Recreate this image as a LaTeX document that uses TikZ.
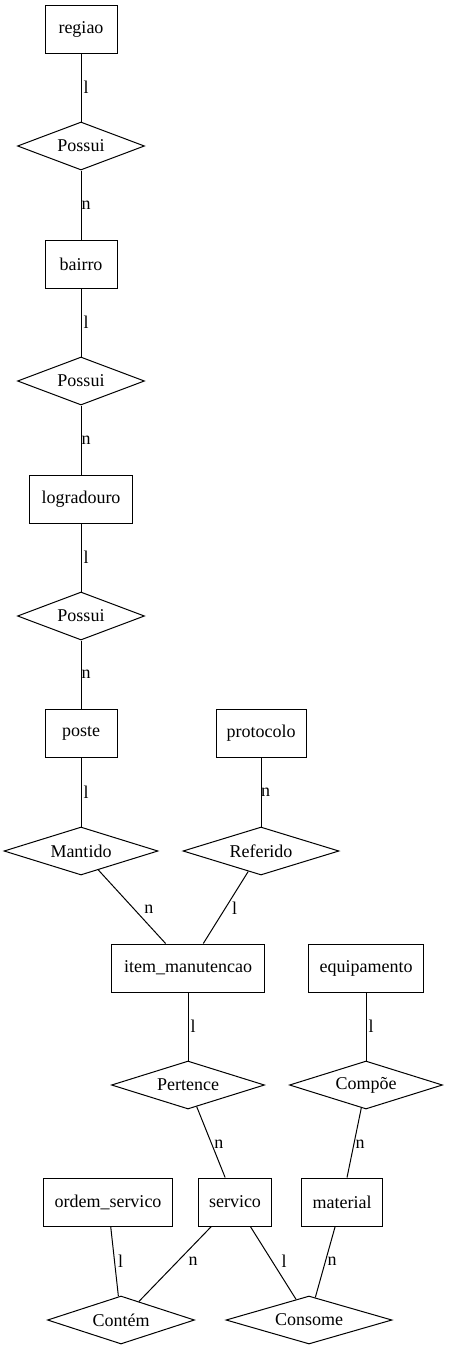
\documentclass[tikz,border=0pt]{standalone}
\usepackage{fontspec}
\setmainfont{Liberation Serif}
\usetikzlibrary{shapes.geometric}
\begin{document}
\begin{tikzpicture}[x=1pt,y=-1pt,
  every node/.style={font=\fontsize{18}{21}\selectfont},
  ent/.style={draw, rectangle, minimum height=48pt, inner sep=0pt, line width=1pt},
  rel/.style={draw, diamond, shape aspect=3.2, minimum height=48pt, inner sep=0pt, line width=1pt},
  conn/.style={line width=1pt},
  lbl/.style={inner sep=0pt, midway}
]
\useasboundingbox (0,0) rectangle (448,1349);
\node[ent, minimum width=72pt] (regiao) at (81,29) {regiao};
\node[rel, minimum width=127pt] (p1) at (81,146) {Possui};
\node[ent, minimum width=72pt] (bairro) at (81,264) {bairro};
\node[rel, minimum width=127pt] (p2) at (81,381) {Possui};
\node[ent, minimum width=103pt] (logr) at (81,499) {logradouro};
\node[rel, minimum width=127pt] (p3) at (81,616) {Possui};
\node[ent, minimum width=72pt] (poste) at (81,733) {poste};
\node[ent, minimum width=90pt] (prot) at (261,733) {protocolo};
\node[rel, minimum width=154pt] (mant) at (81,851) {Mantido};
\node[rel, minimum width=156pt] (ref) at (261,851) {Referido};
\node[ent, minimum width=153pt] (item) at (188,968) {item\_manutencao};
\node[ent, minimum width=115pt] (equip) at (366,968) {equipamento};
\node[rel, minimum width=153pt] (pert) at (188,1085) {Pertence};
\node[rel, minimum width=153pt] (comp) at (366,1085) {Compõe};
\node[ent, minimum width=129pt] (ordem) at (108,1202) {ordem\_servico};
\node[ent, minimum width=73pt] (serv) at (235,1202) {servico};
\node[ent, minimum width=81pt] (mat) at (342,1202) {material};
\node[rel, minimum width=147pt] (cont) at (121,1320) {Contém};
\node[rel, minimum width=166pt] (cons) at (309,1320) {Consome};

\draw[conn] (regiao) -- node[lbl, xshift=5pt] (l1) {l} (p1);
\draw[conn] (p1) -- node[lbl, xshift=5pt] (l2) {n} (bairro);
\draw[conn] (bairro) -- node[lbl, xshift=5pt] (l3) {l} (p2);
\draw[conn] (p2) -- node[lbl, xshift=5pt] (l4) {n} (logr);
\draw[conn] (logr) -- node[lbl, xshift=5pt] (l5) {l} (p3);
\draw[conn] (p3) -- node[lbl, xshift=5pt] (l6) {n} (poste);
\draw[conn] (poste) -- node[lbl, xshift=5pt] (l7) {l} (mant);
\draw[conn] (prot) -- node[lbl, xshift=4.5pt] (l8) {n} (ref);
\draw[conn] (mant) -- node[lbl, xshift=17pt, yshift=-2pt] (l9) {n} (item);
\draw[conn] (ref) -- node[lbl, xshift=9pt, yshift=-1pt] (l10) {l} (item);
\draw[conn] (item) -- node[lbl, xshift=5pt] (l11) {l} (pert);
\draw[conn] (equip) -- node[lbl, xshift=5pt] (l12) {l} (comp);
\draw[conn] (pert) -- node[lbl, xshift=8pt, yshift=-2pt] (l13) {n} (serv);
\draw[conn] (comp) -- node[lbl, xshift=6pt, yshift=-1pt] (l14) {n} (mat);
\draw[conn] (ordem) -- node[lbl, xshift=6pt] (l15) {l} (cont);
\draw[conn] (serv) -- node[lbl, xshift=18pt, yshift=3pt] (l16) {n} (cont);
\draw[conn] (serv) -- node[lbl, xshift=11pt, yshift=2pt] (l17) {l} (cons);
\draw[conn] (mat) -- node[lbl, xshift=7pt, yshift=1pt] (l18) {n} (cons);
\end{tikzpicture}
\end{document}
